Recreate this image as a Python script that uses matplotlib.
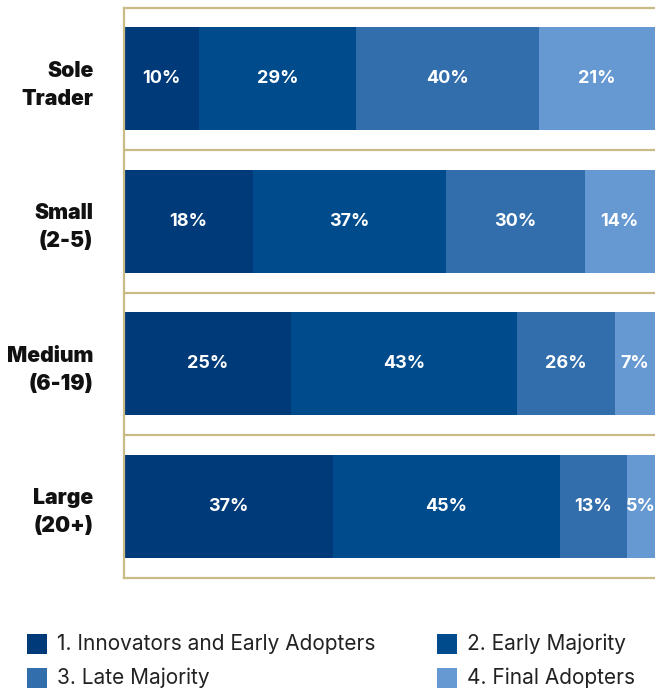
import matplotlib
matplotlib.use("Agg")
import matplotlib.pyplot as plt
from matplotlib.patches import Rectangle
import numpy as np

plt.rcParams["font.family"] = ["Inter", "DejaVu Sans"]

# --- data ---
categories = ["Sole\nTrader", "Small\n(2-5)", "Medium\n(6-19)", "Large\n(20+)"]
series_names = [
    "1. Innovators and Early Adopters",
    "2. Early Majority",
    "3. Late Majority",
    "4. Final Adopters",
]
# printed percentages
pct_labels = [
    [10, 29, 40, 21],
    [18, 37, 30, 14],
    [25, 43, 26, 7],
    [37, 45, 13, 5],
]
# segment lengths as drawn in the original (not proportional to the labels)
seg_inno = [74.5, 128.7, 166.6, 208.9]
seg_early = [157.3, 193.1, 225.2, 226.2]
seg_late = [182.9, 137.9, 97.9, 66.6]
seg_final = [115.3, 70.3, 40.3, 28.3]

colors = ["#003a78", "#004b8c", "#336eac", "#6699d2"]
gold = "#c9bb84"

W, H = 655, 690
fig = plt.figure(figsize=(W / 100, H / 100), dpi=100)
ax = fig.add_axes([124 / W, (H - 577.5) / H, 1 - 124 / W, 570 / H])

y = np.arange(len(categories))
segments = [seg_inno, seg_early, seg_late, seg_final]
left = np.zeros(len(categories))
for i, seg in enumerate(segments):
    seg = np.array(seg)
    ax.barh(y, seg, left=left, height=0.72, color=colors[i], linewidth=0)
    for j in range(len(categories)):
        ax.text(left[j] + seg[j] / 2, y[j], f"{pct_labels[j][i]}%",
                ha="center", va="center", color="white",
                fontsize=13, fontweight="bold")
    left += seg

ax.set_xlim(0, left.max())
ax.set_ylim(len(categories) - 0.5, -0.5)

for sep in np.arange(0.5, len(categories) - 0.5, 1.0):
    ax.axhline(sep, color=gold, linewidth=1.6, zorder=0)

for side in ["left", "top", "bottom"]:
    ax.spines[side].set_color(gold)
    ax.spines[side].set_linewidth(1.6)
ax.spines["right"].set_visible(False)
ax.set_xticks([])
ax.set_yticks(y)
ax.set_yticklabels(categories, fontsize=15.3, fontweight=900, color="#111111",
                   ha="right", linespacing=1.5)
ax.tick_params(axis="y", length=0, pad=22)

# legend, two columns
legend_pos = [(27, 644), (437, 644), (27, 678), (437, 678)]
for name, col, (lx, ly) in zip(series_names, colors, legend_pos):
    fig.add_artist(Rectangle((lx / W, 1 - (ly + 10) / H), 20 / W, 20 / H,
                             transform=fig.transFigure, color=col, linewidth=0))
    fig.text((lx + 30) / W, 1 - ly / H, name, fontsize=15, color="#222222",
             ha="left", va="center")

fig.savefig("out.png", dpi=100)
